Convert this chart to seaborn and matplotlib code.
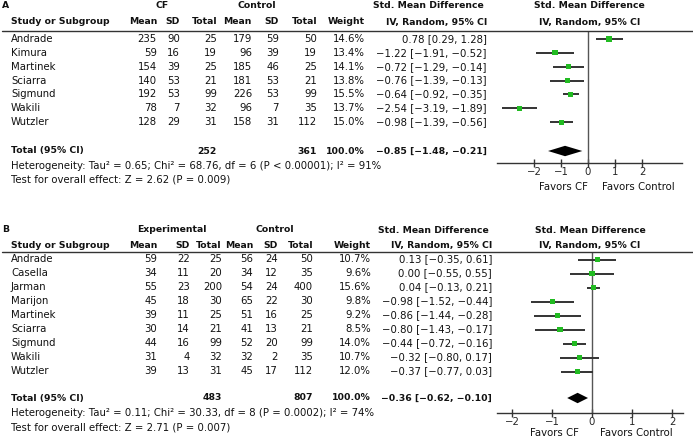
import numpy as np
import pandas as pd
import matplotlib
matplotlib.use("Agg")
import matplotlib.pyplot as plt
import seaborn as sns
from matplotlib.lines import Line2D

# ---------------- data: panel A ----------------
studies_a = ["Andrade", "Kimura", "Martinek", "Sciarra", "Sigmund", "Wakili", "Wutzler"]
cf_mean_a = [235, 59, 154, 140, 192, 78, 128]
cf_sd_a = [90, 16, 39, 53, 53, 7, 29]
cf_n_a = [25, 19, 25, 21, 99, 32, 31]
ctl_mean_a = [179, 96, 185, 181, 226, 96, 158]
ctl_sd_a = [59, 39, 46, 53, 53, 7, 31]
ctl_n_a = [50, 19, 25, 21, 99, 35, 112]
weight_a = [14.6, 13.4, 14.1, 13.8, 15.5, 13.7, 15.0]
smd_a = [0.78, -1.22, -0.72, -0.76, -0.64, -2.54, -0.98]
lo_a = [0.29, -1.91, -1.29, -1.39, -0.92, -3.19, -1.39]
hi_a = [1.28, -0.52, -0.14, -0.13, -0.35, -1.89, -0.56]
total_a = {"n1": 252, "n2": 361, "smd": -0.85, "lo": -1.48, "hi": -0.21}
het_a = "Heterogeneity: Tau² = 0.65; Chi² = 68.76, df = 6 (P < 0.00001); I² = 91%"
test_a = "Test for overall effect: Z = 2.62 (P = 0.009)"

# ---------------- data: panel B ----------------
studies_b = ["Andrade", "Casella", "Jarman", "Marijon", "Martinek", "Sciarra",
             "Sigmund", "Wakili", "Wutzler"]
exp_mean_b = [59, 34, 55, 45, 39, 30, 44, 31, 39]
exp_sd_b = [22, 11, 23, 18, 11, 14, 16, 4, 13]
exp_n_b = [25, 20, 200, 30, 25, 21, 99, 32, 31]
ctl_mean_b = [56, 34, 54, 65, 51, 41, 52, 32, 45]
ctl_sd_b = [24, 12, 24, 22, 16, 13, 20, 2, 17]
ctl_n_b = [50, 35, 400, 30, 25, 21, 99, 35, 112]
weight_b = [10.7, 9.6, 15.6, 9.8, 9.2, 8.5, 14.0, 10.7, 12.0]
smd_b = [0.13, 0.00, 0.04, -0.98, -0.86, -0.80, -0.44, -0.32, -0.37]
lo_b = [-0.35, -0.55, -0.13, -1.52, -1.44, -1.43, -0.72, -0.80, -0.77]
hi_b = [0.61, 0.55, 0.21, -0.44, -0.28, -0.17, -0.16, 0.17, 0.03]
total_b = {"n1": 483, "n2": 807, "smd": -0.36, "lo": -0.62, "hi": -0.10}
het_b = "Heterogeneity: Tau² = 0.11; Chi² = 30.33, df = 8 (P = 0.0002); I² = 74%"
test_b = "Test for overall effect: Z = 2.71 (P = 0.007)"

ticks = [-2, -1, 0, 1, 2]

# ---------------- figure ----------------
sns.set_theme(style="white")
plt.rcParams["font.family"] = ["DejaVu Sans"]
W, H = 693, 438
fig = plt.figure(figsize=(W / 100, H / 100), dpi=100)
FS = 7.25
FSB = 6.7
GREEN = "#22bb22"
LINEC = "#333333"


def fm(v):
    s = f"{v:.2f}"
    return s.replace("-", "\u2212")


def T(x, y, s, ha="left", bold=False):
    fig.text(x / W, 1 - y / H, s, ha=ha, va="center", fontsize=FSB if bold else FS,
             fontweight="bold" if bold else "normal", color="#111111")


def panel(letter, grp1, studies, m1, s1, n1, m2, s2, n2, wt, smd, lo, hi, tot,
          het, test, cols, y_grp, y_hdr, y_line, y0, dy, y_tot, ax_box, xlim,
          grp_x, fav_x, y_fav):
    cm1, cs1, cn1, cm2, cs2, cn2, cw, ce = cols
    T(2, y_grp, letter, bold=True)
    T(grp_x[0], y_grp, grp1, ha="center", bold=True)
    T(grp_x[1], y_grp, "Control", ha="center", bold=True)
    T(ce - 3, y_grp + 0.5, "Std. Mean Difference", ha="right", bold=True)
    T((ax_box[0] + ax_box[1]) / 2, y_grp + 0.5, "Std. Mean Difference", ha="center", bold=True)
    T(11, y_hdr, "Study or Subgroup", bold=True)
    for x, lab in zip([cm1, cs1, cn1, cm2, cs2, cn2, cw],
                      ["Mean", "SD", "Total", "Mean", "SD", "Total", "Weight"]):
        T(x, y_hdr, lab, ha="right", bold=True)
    T(ce, y_hdr, "IV, Random, 95% CI", ha="right", bold=True)
    T((ax_box[0] + ax_box[1]) / 2, y_hdr, "IV, Random, 95% CI", ha="center", bold=True)
    fig.add_artist(Line2D([2 / W, 1], [1 - y_line / H] * 2, color="#333333", lw=1.0,
                          transform=fig.transFigure))
    for i, name in enumerate(studies):
        y = y0 + dy * i
        T(11, y, name)
        for x, v in zip([cm1, cs1, cn1, cm2, cs2, cn2], [m1[i], s1[i], n1[i], m2[i], s2[i], n2[i]]):
            T(x, y, str(v), ha="right")
        T(cw, y, f"{wt[i]:.1f}%", ha="right")
        T(ce, y, f"{fm(smd[i])} [{fm(lo[i])}, {fm(hi[i])}]", ha="right")
    T(11, y_tot, "Total (95% CI)", bold=True)
    T(cn1, y_tot, str(tot["n1"]), ha="right", bold=True)
    T(cn2, y_tot, str(tot["n2"]), ha="right", bold=True)
    T(cw, y_tot, "100.0%", ha="right", bold=True)
    T(ce, y_tot, f"{fm(tot['smd'])} [{fm(tot['lo'])}, {fm(tot['hi'])}]", ha="right", bold=True)
    T(11, y_tot + 15, het)
    T(11, y_tot + 29, test)

    # forest axes
    left, right, top, bottom = ax_box
    ax = fig.add_axes([left / W, 1 - bottom / H, (right - left) / W, (bottom - top) / H])
    rows = np.arange(len(studies))
    df = pd.DataFrame({"smd": smd, "lo": lo, "hi": hi, "row": rows, "w": wt})
    ax.hlines(df["row"], df["lo"], df["hi"], color=LINEC, lw=1.4, zorder=2)
    sns.scatterplot(data=df, x="smd", y="row", marker="s", color=GREEN, s=14,
                    edgecolor="none", ax=ax, zorder=3, legend=False)
    r_tot = (y_tot - y0) / dy
    hh = 5.2 / dy
    ax.fill([tot["lo"], tot["smd"], tot["hi"], tot["smd"]],
            [r_tot, r_tot - hh, r_tot, r_tot + hh], color="black", lw=0, zorder=3)
    ax.axvline(0, color="#555555", lw=1.0, zorder=1)
    ax.set_xlim(xlim)
    ax.set_ylim((bottom - y0) / dy, (top - y0) / dy)
    for sp in ["left", "right", "top"]:
        ax.spines[sp].set_visible(False)
    ax.spines["bottom"].set_color("#333333")
    ax.spines["bottom"].set_linewidth(1.0)
    ax.set_yticks([])
    ax.set_xticks(ticks)
    ax.set_xticklabels([str(t).replace("-", "\u2212") for t in ticks])
    ax.tick_params(axis="x", direction="inout", length=6, width=1, color="#333333",
                   labelsize=FS, pad=0, bottom=True)
    ax.set_xlabel("")
    ax.set_ylabel("")
    ax.patch.set_alpha(0)
    T(fav_x[0], y_fav, "Favors CF", ha="center")
    T(fav_x[1], y_fav, "Favors Control", ha="center")


# panel A: 0 at 588 px, 27 px/unit
panel("A", "CF", studies_a, cf_mean_a, cf_sd_a, cf_n_a, ctl_mean_a, ctl_sd_a, ctl_n_a,
      weight_a, smd_a, lo_a, hi_a, total_a, het_a, test_a,
      cols=[157, 180, 217, 252, 279, 317, 365, 487],
      y_grp=5, y_hdr=22, y_line=31, y0=39, dy=13.85, y_tot=151,
      ax_box=(497, 682, 31, 163), xlim=((497 - 588) / 27.0, (682 - 588) / 27.0),
      grp_x=(162, 257), fav_x=(563, 638), y_fav=187)

# panel B: 0 at 592 px, 40 px/unit
panel("B", "Experimental", studies_b, exp_mean_b, exp_sd_b, exp_n_b, ctl_mean_b, ctl_sd_b,
      ctl_n_b, weight_b, smd_b, lo_b, hi_b, total_b, het_b, test_b,
      cols=[157, 190, 222, 253, 278, 313, 371, 492],
      y_grp=230, y_hdr=245, y_line=252, y0=259.5, dy=14.0, y_tot=398,
      ax_box=(497, 683, 252, 413), xlim=((497 - 592) / 40.0, (683 - 592) / 40.0),
      grp_x=(172, 275), fav_x=(554, 636), y_fav=433)

fig.savefig("out.png", dpi=100, facecolor="white")
